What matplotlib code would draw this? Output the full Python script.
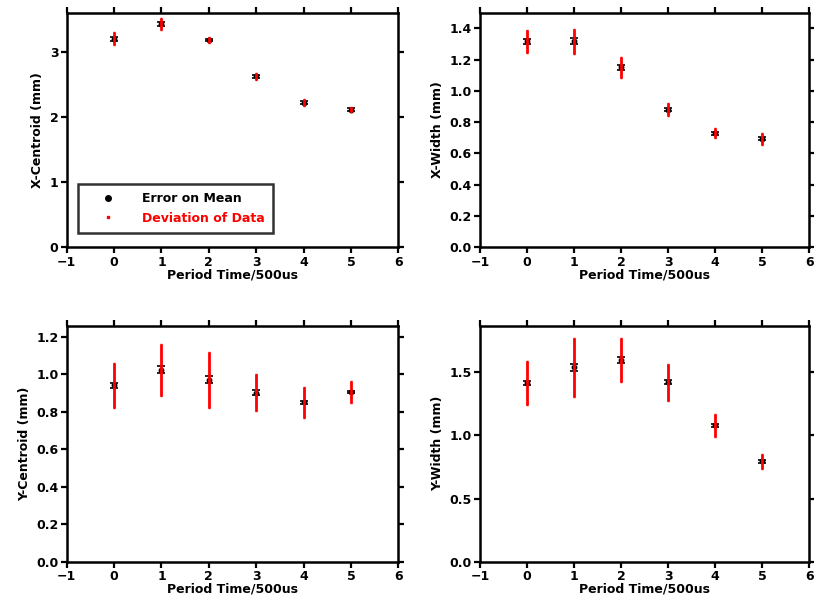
import numpy as np
import matplotlib
matplotlib.use("Agg")
import matplotlib.pyplot as plt
from matplotlib.lines import Line2D
from matplotlib.ticker import FormatStrFormatter

# -------------------------
# Measured beam parameters per period
# -------------------------
period = [0, 1, 2, 3, 4, 5]

x_cent = [3.20, 3.42, 3.18, 2.62, 2.22, 2.11]
x_cent_sem = [0.03, 0.03, 0.02, 0.02, 0.02, 0.02]
x_cent_std = [0.10, 0.09, 0.05, 0.05, 0.05, 0.04]

x_width = [1.316, 1.318, 1.149, 0.880, 0.728, 0.694]
x_width_sem = [0.017, 0.017, 0.017, 0.011, 0.009, 0.009]
x_width_std = [0.074, 0.080, 0.070, 0.042, 0.032, 0.038]

y_cent = [0.941, 1.025, 0.971, 0.903, 0.850, 0.905]
y_cent_sem = [0.014, 0.020, 0.018, 0.012, 0.009, 0.007]
y_cent_std = [0.120, 0.138, 0.148, 0.097, 0.085, 0.060]

y_width = [1.416, 1.540, 1.598, 1.420, 1.080, 0.795]
y_width_sem = [0.016, 0.026, 0.026, 0.016, 0.011, 0.011]
y_width_std = [0.172, 0.232, 0.175, 0.147, 0.090, 0.061]

panels = [
    ("X-Centroid (mm)", x_cent, x_cent_sem, x_cent_std, 3.6, [0, 1, 2, 3], "%d"),
    ("X-Width (mm)", x_width, x_width_sem, x_width_std, 1.5,
     [0.0, 0.2, 0.4, 0.6, 0.8, 1.0, 1.2, 1.4], "%.1f"),
    ("Y-Centroid (mm)", y_cent, y_cent_sem, y_cent_std, 1.26,
     [0.0, 0.2, 0.4, 0.6, 0.8, 1.0, 1.2], "%.1f"),
    ("Y-Width (mm)", y_width, y_width_sem, y_width_std, 1.87,
     [0.0, 0.5, 1.0, 1.5], "%.1f"),
]

# axes rectangles in figure fractions
rects = [
    [0.0820, 0.5894, 0.4073, 0.3897],
    [0.5897, 0.5894, 0.4046, 0.3897],
    [0.0820, 0.0670, 0.4073, 0.3920],
    [0.5897, 0.0670, 0.4046, 0.3920],
]

plt.rcParams['font.family'] = 'DejaVu Sans'
plt.rcParams['font.weight'] = 'bold'

fig = plt.figure(figsize=(8.14, 6.02), dpi=100)

for rect, (ylab, val, sem, std, ytop, yt, fmt) in zip(rects, panels):
    ax = fig.add_axes(rect)
    # error on mean (black) underneath, spread of data (red) on top
    ax.errorbar(period, val, yerr=sem, fmt='o', color='black', ms=3.2,
                ecolor='black', elinewidth=1.0, capsize=2.6, capthick=1.2,
                zorder=2)
    ax.errorbar(period, val, yerr=std, fmt='none', ecolor='red',
                elinewidth=2.0, capsize=1.0, capthick=1.0, zorder=3)
    ax.set_xlim(-1, 6)
    ax.set_ylim(0, ytop)
    ax.set_xticks(range(-1, 7))
    ax.set_yticks(yt)
    ax.yaxis.set_major_formatter(FormatStrFormatter(fmt))
    ax.tick_params(direction='out', length=4, width=1.6, labelsize=9,
                   top=True, right=True, pad=2)
    for lab in ax.get_xticklabels() + ax.get_yticklabels():
        lab.set_fontweight('bold')
    for sp in ax.spines.values():
        sp.set_linewidth(1.8)
    ax.set_xlabel("Period Time/500us", fontsize=9, fontweight='bold', labelpad=0)
    ax.set_ylabel(ylab, fontsize=9, fontweight='bold', labelpad=4)

    if ylab == "X-Centroid (mm)":
        handles = [
            Line2D([], [], ls='none', marker='o', color='black', ms=4),
            Line2D([], [], ls='none', marker='s', color='red', ms=1.5),
        ]
        leg = ax.legend(handles, ["Error on Mean", "Deviation of Data"],
                        loc='lower left', bbox_to_anchor=(0.034, 0.062),
                        borderaxespad=0, fontsize=9, frameon=True,
                        fancybox=False, handlelength=3.5, handletextpad=1.0,
                        borderpad=0.65, labelspacing=0.5)
        leg.get_frame().set_edgecolor('black')
        leg.get_frame().set_linewidth(1.8)
        leg.get_texts()[1].set_color('red')
        for t in leg.get_texts():
            t.set_fontweight('bold')

fig.savefig("out.png", dpi=100)
